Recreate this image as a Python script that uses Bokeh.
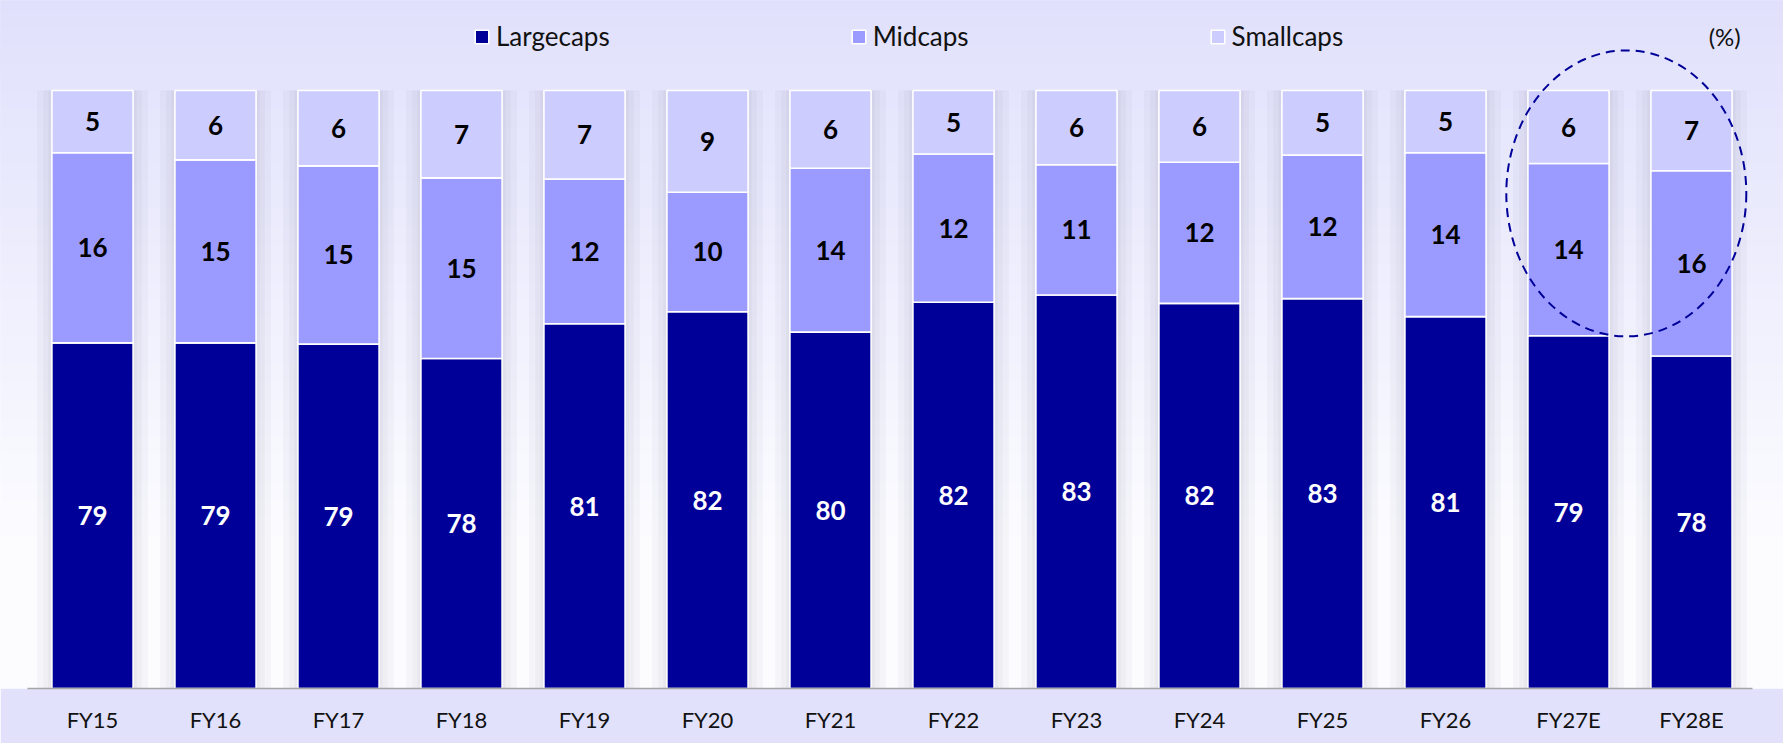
from bokeh.plotting import figure
from bokeh.models import (FactorRange, Range1d, Legend, LegendItem, Label,
                          BoxAnnotation, ColumnDataSource)
from bokeh.core.properties import value
from bokeh.transform import dodge
from bokeh.embed import file_html
from bokeh.resources import INLINE

# ---------------- data ----------------
years = ["FY15", "FY16", "FY17", "FY18", "FY19", "FY20", "FY21", "FY22",
         "FY23", "FY24", "FY25", "FY26", "FY27E", "FY28E"]
largecaps = [78.9, 78.9, 78.8, 77.6, 80.5, 81.5, 79.8, 82.3, 82.9, 82.2, 82.6, 81.1, 79.5, 77.8]
midcaps = [15.9, 15.3, 14.9, 15.1, 12.1, 10.0, 13.7, 12.4, 10.9, 11.8, 12.0, 13.7, 14.4, 15.5]
smallcaps = [5.2, 5.8, 6.3, 7.3, 7.4, 8.5, 6.5, 5.3, 6.2, 6.0, 5.4, 5.2, 6.1, 6.7]
large_lbl = [79, 79, 79, 78, 81, 82, 80, 82, 83, 82, 83, 81, 79, 78]
mid_lbl = [16, 15, 15, 15, 12, 10, 14, 12, 11, 12, 12, 14, 14, 16]
small_lbl = [5, 6, 6, 7, 7, 9, 6, 5, 6, 6, 5, 5, 6, 7]
series = ["Largecaps", "Midcaps", "Smallcaps"]
colors = ["#000099", "#9B9BFF", "#CCCCFF"]
highlight = ["FY27E", "FY28E"]

Y0, Y1 = 50, 107.53
FONT = "Lato"

totals = [a + b + c for a, b, c in zip(largecaps, midcaps, smallcaps)]
src = ColumnDataSource(dict(
    year=years, large=largecaps, mid=midcaps, small=smallcaps, total=totals,
    y_large=[(Y0 + a) / 2 for a in largecaps],
    y_mid=[a + b / 2 for a, b in zip(largecaps, midcaps)],
    y_small=[a + b + c / 2 for a, b, c in zip(largecaps, midcaps, smallcaps)],
    t_large=[str(v) for v in large_lbl],
    t_mid=[str(v) for v in mid_lbl],
    t_small=[str(v) for v in small_lbl],
))

p = figure(
    x_range=FactorRange(*years, range_padding=0.248, range_padding_units="absolute"),
    y_range=Range1d(Y0, Y1),
    width=1783, height=743,
    min_border_left=0, min_border_right=0, min_border_top=0, min_border_bottom=55,
    y_axis_location=None,
    output_backend="svg", toolbar_location=None,
)
p.border_fill_color = "#E1E1FB"
p.background_fill_color = "#FCFCFF"
p.outline_line_color = None
p.xgrid.visible = False
p.ygrid.visible = False

# vertical background gradient (lavender at top -> near white lower down)
top_c = (224, 224, 252)
bot_c = (252, 252, 255)
n = 60
g_bottom = 62.0
bands = []
for i in range(n):
    t1 = Y1 - (Y1 - g_bottom) * (i + 1) / n
    f = (i + 0.5) / n
    c = tuple(int(round(a + (b - a) * f)) for a, b in zip(top_c, bot_c))
    bands.append((t1, "#%02x%02x%02x" % c))
for t1, col in reversed(bands):   # overlapping bands: no seams
    p.add_layout(BoxAnnotation(bottom=t1, top=Y1, fill_color=col,
                               fill_alpha=1, line_alpha=0, level="underlay"))

# soft shadows behind bars
for extra in (0.24, 0.14, 0.06):
    p.vbar(x="year", top="total", bottom=Y0, width=0.66 + extra, source=src,
           fill_color="#5A5A70", fill_alpha=0.045, line_alpha=0)

# stacked bars
rs = p.vbar_stack(["large", "mid", "small"], x="year", width=0.66, source=src,
                  color=colors, line_color="white", line_width=1.6)

# value labels
for ycol, tcol, tc in (("y_large", "t_large", "white"),
                       ("y_mid", "t_mid", "black"),
                       ("y_small", "t_small", "black")):
    p.text(x="year", y=ycol, text=tcol, source=src, text_color=tc,
           text_font=value(FONT), text_font_style="bold", text_font_size="26px",
           text_align="center", text_baseline="middle")

# dashed ellipse around the estimate years
esrc = ColumnDataSource(dict(x=[highlight[0]], y=[91.4]))
p.ellipse(x=dodge("x", 0.47, range=p.x_range), y="y", width=240, height=286,
          width_units="screen", height_units="screen", source=esrc,
          fill_alpha=0, line_color="#000099", line_width=2, line_dash="9 6")

# legend
legend = Legend(
    items=[LegendItem(label=s, renderers=[r]) for s, r in zip(series, rs)],
    orientation="horizontal", location=(473, 636), spacing=240,
    glyph_width=17, glyph_height=17, label_standoff=6,
    label_text_font=FONT, label_text_font_size="26px", label_text_color="#111111",
    border_line_alpha=0, background_fill_alpha=0, padding=0, margin=0,
)
p.add_layout(legend, "center")

# unit note
p.add_layout(Label(x=years.index("FY28E") + 0.5 + 0.27, y=104.48, text="(%)",
                   text_font=FONT, text_font_size="24px", text_color="#111111",
                   text_align="center", text_baseline="middle"))

# x axis
ax = p.xaxis[0]
ax.bounds = (-0.03, len(years))
ax.axis_line_color = "#A6A6A6"
ax.axis_line_width = 1.5
ax.major_tick_line_color = None
ax.minor_tick_line_color = None
ax.major_label_standoff = 11
ax.major_label_text_font = FONT
ax.major_label_text_font_size = "22px"
ax.major_label_text_color = "#111111"

open("out.html", "w").write(file_html(p, INLINE))
